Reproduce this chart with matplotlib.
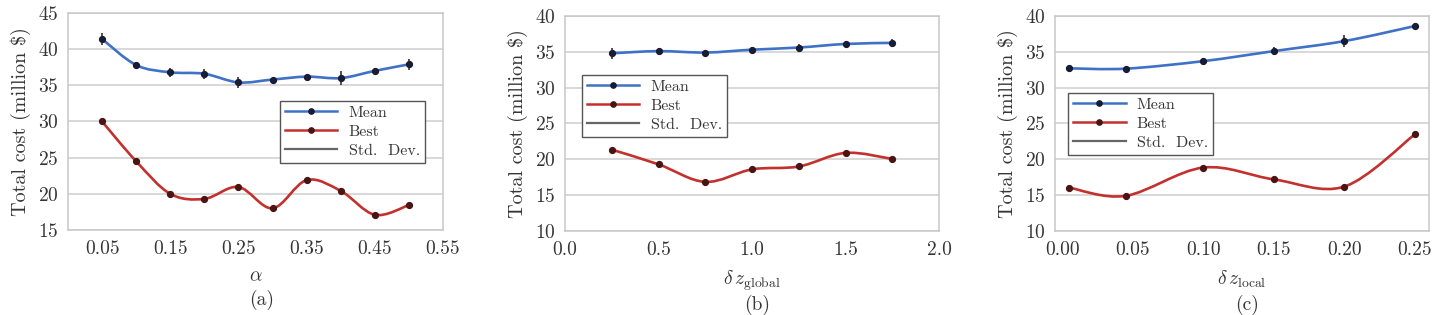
import numpy as np
import matplotlib
matplotlib.use("Agg")
import matplotlib.pyplot as plt
from matplotlib.path import Path
from matplotlib.patches import PathPatch
from matplotlib.lines import Line2D

plt.rcParams['font.family'] = ['cmr10', 'DejaVu Serif']
plt.rcParams['mathtext.fontset'] = 'cm'
plt.rcParams['axes.unicode_minus'] = False
plt.rcParams['axes.formatter.use_mathtext'] = True

# -------------------------
# data
# -------------------------
alpha = [0.05, 0.10, 0.15, 0.20, 0.25, 0.30, 0.35, 0.40, 0.45, 0.50]
alpha_mean = [41.4, 37.8, 36.8, 36.6, 35.4, 35.8, 36.2, 36.0, 37.0, 37.9]
alpha_std = [0.8, 0.4, 0.6, 0.7, 0.8, 0.3, 0.4, 1.0, 0.4, 0.8]
alpha_best = [30.0, 24.5, 20.0, 19.3, 20.95, 18.0, 21.9, 20.4, 17.1, 18.45]

dz_global = [0.25, 0.50, 0.75, 1.00, 1.25, 1.50, 1.75]
global_mean = [34.8, 35.1, 34.9, 35.3, 35.6, 36.1, 36.25]
global_std = [0.8, 0.4, 0.3, 0.4, 0.5, 0.3, 0.6]
global_best = [21.35, 19.3, 16.85, 18.6, 19.0, 20.9, 20.05]

dz_local = [0.005, 0.045, 0.10, 0.15, 0.20, 0.25]
local_mean = [32.7, 32.65, 33.7, 35.1, 36.5, 38.6]
local_std = [0.3, 0.3, 0.4, 0.6, 0.8, 0.4]
local_best = [16.05, 14.9, 18.85, 17.2, 16.2, 23.5]

BLUE = '#3f72c6'
RED = '#c2312e'
MEAN_MK = '#15193a'
BEST_MK = '#4a1414'
TXT = '#353535'


def smooth_path(x, y):
    # Catmull-Rom through the points, as bezier segments
    pts = np.column_stack([x, y]).astype(float)
    ext = np.vstack([pts[0], pts, pts[-1]])
    verts = [pts[0]]
    codes = [Path.MOVETO]
    for i in range(len(pts) - 1):
        p0, p1, p2, p3 = ext[i], ext[i + 1], ext[i + 2], ext[i + 3]
        c1 = p1 + (p2 - p0) / 6.0
        c2 = p2 - (p3 - p1) / 6.0
        verts += [c1, c2, p2]
        codes += [Path.CURVE4] * 3
    return Path(verts, codes)


def draw_panel(ax, x, mean, std, best, xlim, ylim, xticks, yticks, xlabel, leg_loc):
    for vals, col, mk in [(mean, BLUE, MEAN_MK), (best, RED, BEST_MK)]:
        ax.add_patch(PathPatch(smooth_path(x, vals), fill=False, edgecolor=col, lw=1.9, zorder=3))
        ax.plot(x, vals, linestyle='none', marker='o', ms=4.2, color=mk, zorder=4)
    ax.errorbar(x, mean, yerr=std, fmt='none', ecolor='#222222', elinewidth=1.1, zorder=4)

    ax.set_xlim(*xlim)
    ax.set_ylim(*ylim)
    ax.set_xticks(xticks)
    ax.set_yticks(yticks)
    ax.grid(axis='y', color='#d6d6d6', lw=1.3)
    ax.set_axisbelow(True)
    for s in ax.spines.values():
        s.set_color('#c8c8c8')
        s.set_linewidth(1.1)
    ax.tick_params(length=0, labelsize=14, colors=TXT, pad=7)
    ax.set_ylabel(r'Total cost (million \$)', fontsize=14.5, color=TXT, labelpad=5)
    ax.set_xlabel(xlabel, fontsize=14, color=TXT, labelpad=7)

    handles = [
        Line2D([], [], color=BLUE, lw=1.8, marker='o', ms=3.8, mfc=MEAN_MK, mec=MEAN_MK),
        Line2D([], [], color=RED, lw=1.8, marker='o', ms=3.8, mfc=BEST_MK, mec=BEST_MK),
        Line2D([], [], color='#666666', lw=1.6),
    ]
    leg = ax.legend(handles, ['Mean', 'Best', 'Std.  Dev.'], loc='upper left',
                    bbox_to_anchor=leg_loc, fontsize=11.5, frameon=True, fancybox=False,
                    edgecolor='#555555', framealpha=1, handlelength=3.3,
                    borderpad=0.3, labelspacing=0.3, handletextpad=0.7, borderaxespad=0)
    leg.get_frame().set_linewidth(1.0)
    for t in leg.get_texts():
        t.set_color(TXT)


fig = plt.figure(figsize=(14.37, 3.15), dpi=100)
ax1 = fig.add_axes([0.0473, 0.2698, 0.261, 0.689])
ax2 = fig.add_axes([0.3932, 0.2667, 0.2603, 0.6825])
ax3 = fig.add_axes([0.7342, 0.2667, 0.2603, 0.6825])

draw_panel(ax1, alpha, alpha_mean, alpha_std, alpha_best,
           (0.0, 0.55), (15, 45), np.arange(0.05, 0.56, 0.1), np.arange(15, 46, 5),
           r'$\alpha$', (0.565, 0.595))
draw_panel(ax2, dz_global, global_mean, global_std, global_best,
           (0.0, 2.0), (10, 40), np.arange(0.0, 2.01, 0.5), np.arange(10, 41, 5),
           r'$\delta\, z_{\rm global}$', (0.045, 0.726))
draw_panel(ax3, dz_local, local_mean, local_std, local_best,
           (-0.005, 0.26), (10, 40), np.arange(0.0, 0.251, 0.05), np.arange(10, 41, 5),
           r'$\delta\, z_{\rm local}$', (0.035, 0.642))

ax1.set_xticklabels(['0.05', '0.15', '0.25', '0.35', '0.45', '0.55'])
ax2.set_xticklabels(['0.0', '0.5', '1.0', '1.5', '2.0'])
ax3.set_xticklabels(['0.00', '0.05', '0.10', '0.15', '0.20', '0.25'])

# sub-captions under each panel
fig.text(262 / 1437, 1 - 300 / 315, '(a)', ha='center', va='center', fontsize=14, color=TXT)
fig.text(757 / 1437, 1 - 305 / 315, '(b)', ha='center', va='center', fontsize=14, color=TXT)
fig.text(1247 / 1437, 1 - 305 / 315, '(c)', ha='center', va='center', fontsize=14, color=TXT)

fig.savefig('out.png', dpi=100)
